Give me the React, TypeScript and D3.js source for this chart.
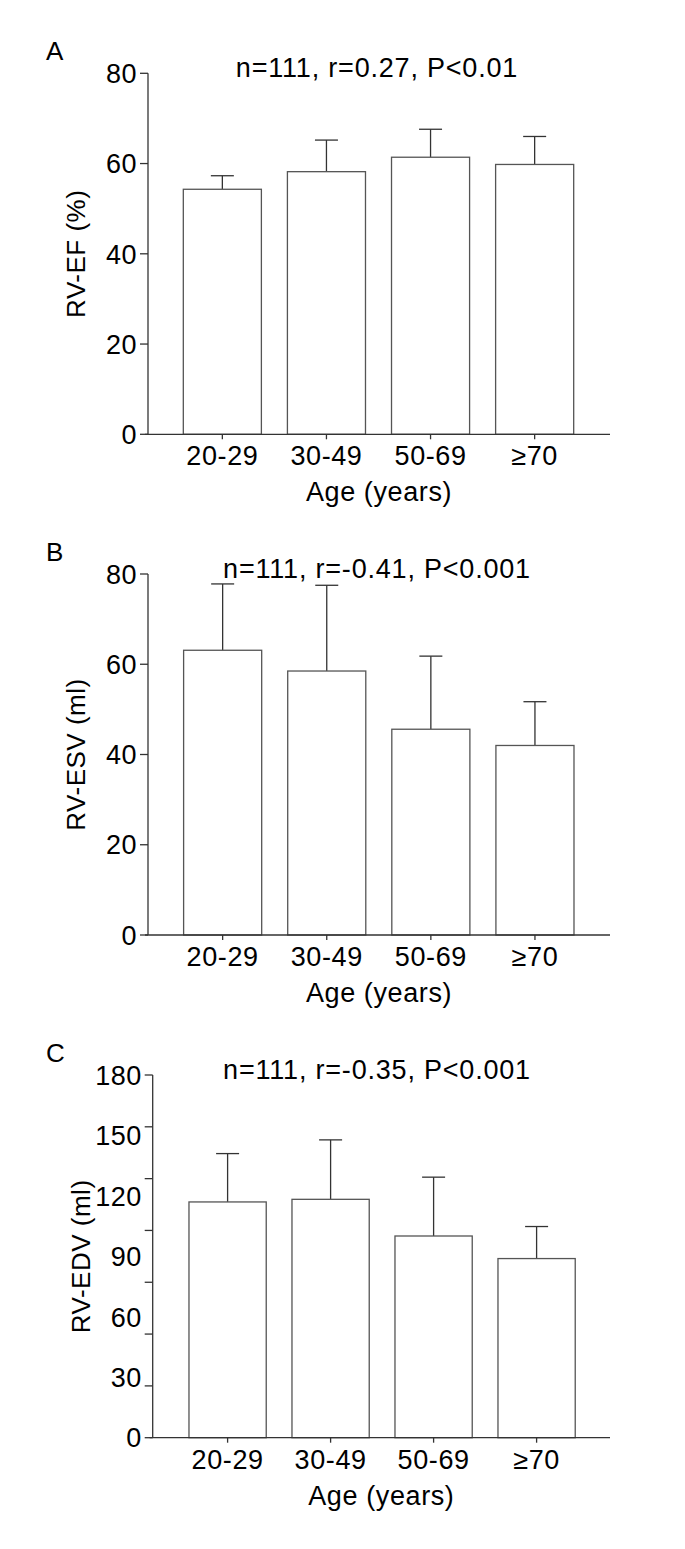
import React from "react";
import * as d3 from "d3";

const categories = ["20-29", "30-49", "50-69", "≥70"];

const efMean = [54.3, 58.2, 61.4, 59.8];
const efSD = [3.0, 7.0, 6.2, 6.2];

const esvMean = [63.1, 58.5, 45.6, 42.0];
const esvSD = [14.7, 19.0, 16.2, 9.7];

const edvMean = [117.0, 118.3, 100.1, 88.9];
const edvSD = [24.0, 29.5, 29.2, 15.9];

const ticks80 = [0, 20, 40, 60, 80];
const labels180 = [0, 30, 60, 90, 120, 150, 180];
const marks180 = [0, 25.71, 51.43, 77.14, 102.86, 128.57, 154.29, 180];

const FONT = "'Liberation Sans', Arial, Helvetica, sans-serif";
const AXIS = "#333";
const BAR = "#555";

type PanelProps = {
  letter: string;
  title: string;
  yLabel: string;
  means: number[];
  sds: number[];
  yMax: number;
  tickLabels: number[];
  tickMarks: number[];
  top: number;
  bottom: number;
  axisX: number;
  bandRange: [number, number];
  yLabelX: number;
};

const Panel = ({
  letter, title, yLabel, means, sds, yMax, tickLabels, tickMarks,
  top, bottom, axisX, bandRange, yLabelX
}: PanelProps) => {
  const y = d3.scaleLinear().domain([0, yMax]).range([bottom, top]);
  const x = d3.scaleBand<string>()
    .domain(categories)
    .range(bandRange)
    .paddingInner(0.25)
    .paddingOuter(0.125);
  const bw = x.bandwidth();
  const capHalf = 11.5;
  const midY = (top + bottom) / 2;
  const axisEnd = 610;

  return (
    <g fontFamily={FONT}>
      <text x={46} y={top - 13.5} fontSize={26}>{letter}</text>
      <text x={377} y={top + 3.5} fontSize={27} letterSpacing={0.8} textAnchor="middle">{title}</text>

      {/* bars */}
      {means.map((m, i) => {
        const x0 = x(categories[i])!;
        const cx = x0 + bw / 2;
        return (
          <g key={i}>
            <line x1={cx} x2={cx} y1={y(m)} y2={y(m + sds[i])} stroke={AXIS} strokeWidth={1.3} />
            <line x1={cx - capHalf} x2={cx + capHalf} y1={y(m + sds[i])} y2={y(m + sds[i])} stroke={AXIS} strokeWidth={1.3} />
            <rect x={x0} y={y(m)} width={bw} height={bottom - y(m)} fill="#fff" stroke={BAR} strokeWidth={1.3} />
          </g>
        );
      })}

      {/* y axis */}
      <line x1={axisX} x2={axisX} y1={top} y2={bottom} stroke={AXIS} strokeWidth={1.3} />
      {tickMarks.map((t) => (
        <line key={t} x1={axisX - 8} x2={axisX} y1={y(t)} y2={y(t)} stroke={AXIS} strokeWidth={1.3} />
      ))}
      {tickLabels.map((t) => (
        <text key={t} x={axisX - 11} y={y(t)} dy="0.36em" fontSize={27} letterSpacing={0.5} textAnchor="end">{t}</text>
      ))}
      <text
        transform={`translate(${yLabelX},${midY}) rotate(-90)`}
        fontSize={26}
        letterSpacing={0.5}
        textAnchor="middle"
      >{yLabel}</text>

      {/* x axis */}
      <line x1={axisX - 3} x2={axisEnd} y1={bottom} y2={bottom} stroke={AXIS} strokeWidth={1.3} />
      {categories.map((c) => {
        const cx = x(c)! + bw / 2;
        return (
          <g key={c}>
            <line x1={cx} x2={cx} y1={bottom} y2={bottom + 5} stroke={AXIS} strokeWidth={1.3} />
            <text x={cx} y={bottom + 31} fontSize={27} letterSpacing={0.6} textAnchor="middle">{c}</text>
          </g>
        );
      })}
      <text x={(axisX + axisEnd) / 2} y={bottom + 67} fontSize={27} letterSpacing={0.6} textAnchor="middle">Age (years)</text>
    </g>
  );
};

export default function App() {
  return (
    <svg
      width={685}
      height={1549}
      style={{ position: "absolute", left: 0, top: 0, background: "#fff" }}
    >
      <rect width={685} height={1549} fill="#fff" />
      <Panel
        letter="A" title="n=111, r=0.27, P<0.01" yLabel="RV-EF (%)"
        means={efMean} sds={efSD} yMax={80}
        tickLabels={ticks80} tickMarks={ticks80}
        top={73.3} bottom={434.3} axisX={148} bandRange={[170.3, 586.7]} yLabelX={85}
      />
      <Panel
        letter="B" title="n=111, r=-0.41, P<0.001" yLabel="RV-ESV (ml)"
        means={esvMean} sds={esvSD} yMax={80}
        tickLabels={ticks80} tickMarks={ticks80}
        top={574} bottom={935} axisX={148} bandRange={[170.6, 587]} yLabelX={85}
      />
      <Panel
        letter="C" title="n=111, r=-0.35, P<0.001" yLabel="RV-EDV (ml)"
        means={edvMean} sds={edvSD} yMax={180}
        tickLabels={labels180} tickMarks={marks180}
        top={1075} bottom={1437.7} axisX={152.7} bandRange={[176.1, 588.1]} yLabelX={90}
      />
    </svg>
  );
}
